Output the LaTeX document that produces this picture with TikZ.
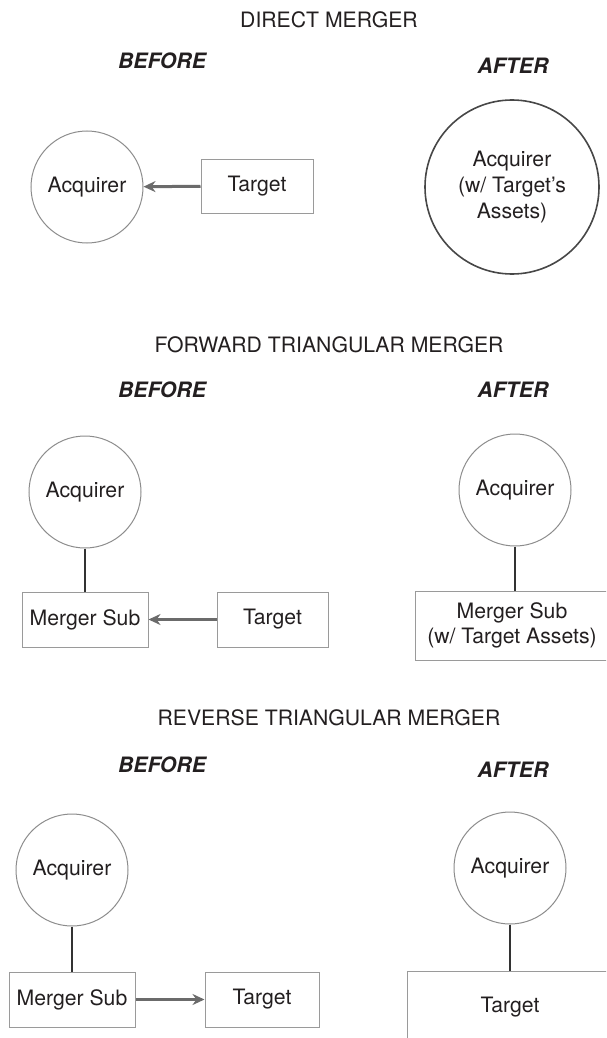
\documentclass[tikz,border=0pt]{standalone}
\usepackage{fontspec}
\setmainfont{TeX Gyre Heros}
\usetikzlibrary{arrows.meta}

\definecolor{inkblack}{HTML}{231F20}
\definecolor{circgray}{HTML}{8C8C8C}
\definecolor{boxgray}{HTML}{9A9A9A}
\definecolor{linkgray}{HTML}{333333}
\definecolor{arrowgray}{HTML}{6B6B6B}

\begin{document}
\begin{tikzpicture}[x=0.5pt,y=-0.5pt,
    every node/.style ={text=inkblack, font=\fontsize{10.6}{12.8}\selectfont},
    firm/.style ={circle, draw=circgray, line width=0.5pt, minimum size=56pt, inner sep=0pt, align=center},
    entity/.style ={rectangle, draw=boxgray, line width=0.5pt, minimum height=27.5pt, inner sep=0pt, align=center},
    heading/.style ={font=\fontsize{10.6}{12.8}\selectfont\bfseries\itshape},
    link/.style ={linkgray, line width=1pt},
    flow/.style ={arrowgray, line width=1.5pt, -{Stealth[length=6pt,width=5.5pt]}}]
   \useasboundingbox (0,0) rectangle (606,1038);
   \clip (0,0) rectangle (606,1038);

   % direct merger
   \node (H1) at (329,20) {DIRECT MERGER};
   \node[heading] (P1) at (162,61) {BEFORE};
   \node[heading] (Q1) at (513,66) {AFTER};
   \node[firm] (A1) at (87,187) {Acquirer};
   \node[entity,minimum width=56pt,minimum height=27pt] (T1) at (257,186) {Target};
   \node[firm,minimum size=87pt,draw=linkgray!90,line width=0.8pt] (A2) at (512,187) {Acquirer\\(w/ Target's\\Assets)};

   \draw[flow] (T1) to (A1);

   % forward triangular merger
   \node (H2) at (329,345) {FORWARD TRIANGULAR MERGER};
   \node[heading] (P2) at (162,390) {BEFORE};
   \node[heading] (Q2) at (513,390) {AFTER};
   \node[firm] (A3) at (85,492) {Acquirer};
   \node[entity,minimum width=63pt] (M3) at (85,619.5) {Merger Sub};
   \node[entity,minimum width=55.5pt] (T3) at (272.5,619.5) {Target};
   \node[firm] (A4) at (515,490) {Acquirer};
   \node[entity,minimum width=97pt,minimum height=34.5pt] (M4) at (512,625.5) {Merger Sub\\(w/ Target Assets)};

   \draw[link] (A3) to (M3);
   \draw[flow] (T3) to (M3);
   \draw[link] (A4) to (A4 |- M4.north);

   % reverse triangular merger
   \node (H3) at (329,718) {REVERSE TRIANGULAR MERGER};
   \node[heading] (P3) at (162,765) {BEFORE};
   \node[heading] (Q3) at (513,770) {AFTER};
   \node[firm] (A5) at (72,870) {Acquirer};
   \node[entity,minimum width=63pt] (M5) at (72,999.5) {Merger Sub};
   \node[entity,minimum width=57pt] (T5) at (262,999.5) {Target};
   \node[firm] (A6) at (510,868) {Acquirer};
   \node[entity,minimum width=103pt,minimum height=36pt] (T6) at (510,1007) {Target};

   \draw[link] (A5) to (M5);
   \draw[flow] (M5) to (T5);
   \draw[link] (A6) to (T6);
\end{tikzpicture}
\end{document}
